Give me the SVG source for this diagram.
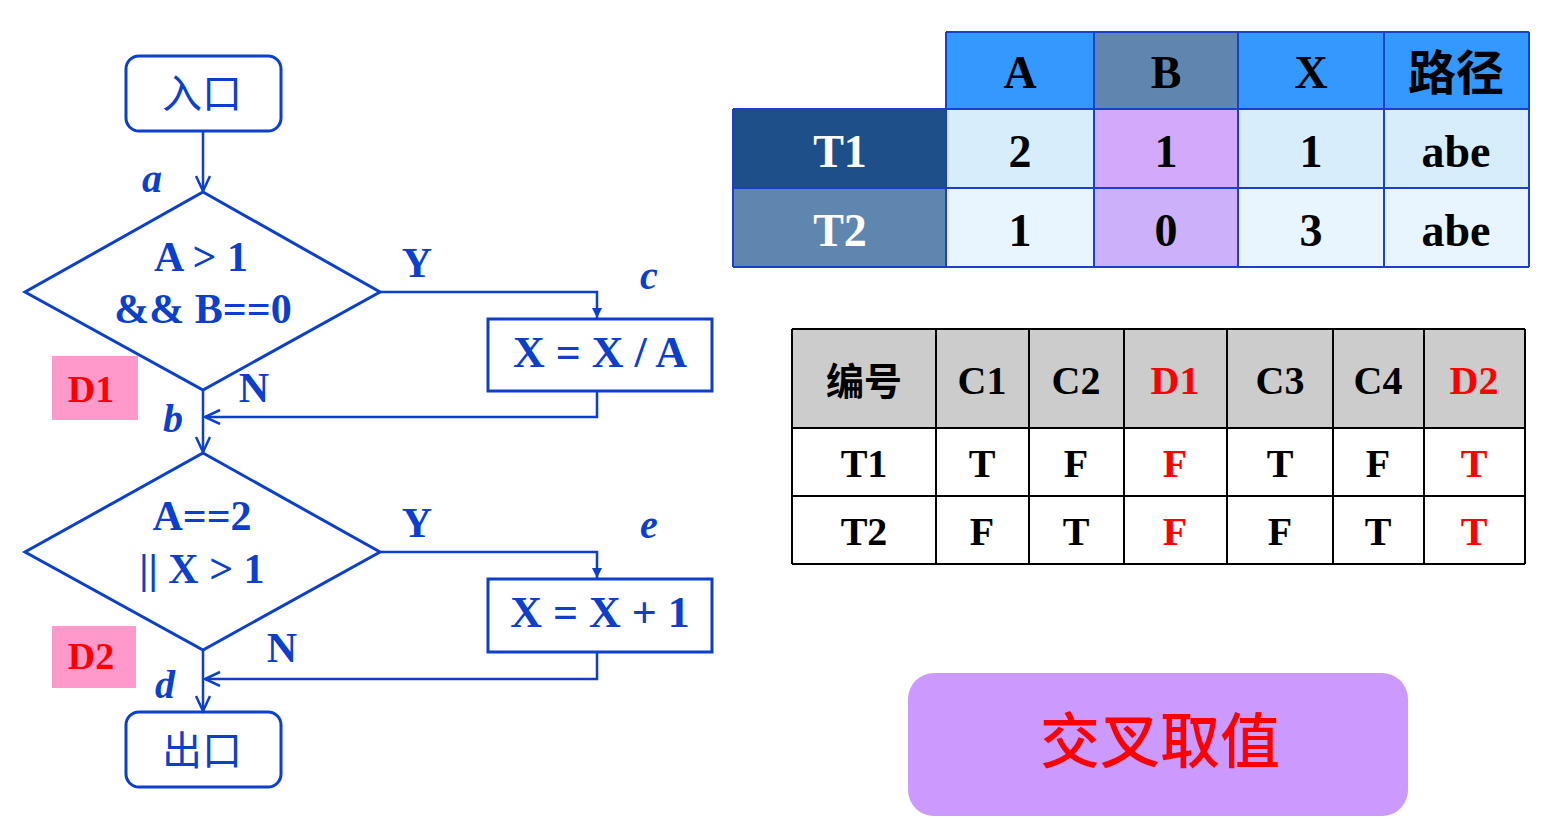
<svg xmlns="http://www.w3.org/2000/svg" width="1558" height="830" viewBox="0 0 1558 830">
<defs>
<style>
.fc{fill:none;stroke:#0B3FCC;stroke-width:3}
.ln{fill:none;stroke:#0B3FCC;stroke-width:2.5}
.bt{font-family:"Liberation Serif","Times New Roman",serif;font-weight:bold;fill:#0B3FCC;text-anchor:middle}
.it{font-family:"Liberation Serif","Times New Roman",serif;font-weight:bold;font-style:italic;fill:#0B3FCC;text-anchor:middle;font-size:40px}
.cjk{font-family:"Noto Sans CJK SC",sans-serif;text-anchor:middle}
.tt{font-family:"Liberation Serif","Times New Roman","Noto Sans CJK SC",serif;font-weight:bold;text-anchor:middle}
.t1{stroke:#1A3FCC;stroke-width:2}
.t2{stroke:#000;stroke-width:2}
</style>
<marker id="open" markerWidth="20" markerHeight="20" refX="16" refY="8" orient="auto" markerUnits="userSpaceOnUse">
<path d="M1,1 L16,8 L1,15" fill="none" stroke="#0B3FCC" stroke-width="2.5"/>
</marker>
<marker id="fill" markerWidth="14" markerHeight="14" refX="10" refY="5" orient="auto" markerUnits="userSpaceOnUse">
<path d="M0,0 L10,5 L0,10 Z" fill="#0B3FCC"/>
</marker>
</defs>
<rect width="1558" height="830" fill="#fff"/>

<g id="connectors">
<line class="ln" x1="203" y1="131" x2="203" y2="191" marker-end="url(#open)"/>
<polyline class="ln" points="380,292 597,292 597,318" marker-end="url(#fill)"/>
<polyline class="ln" points="597,391 597,417 205,417" marker-end="url(#open)"/>
<line class="ln" x1="203" y1="390" x2="203" y2="452" marker-end="url(#open)"/>
<polyline class="ln" points="380,552 597,552 597,578" marker-end="url(#fill)"/>
<polyline class="ln" points="597,652 597,679 205,679" marker-end="url(#open)"/>
<line class="ln" x1="203" y1="650" x2="203" y2="711" marker-end="url(#open)"/>
<text class="it" x="152" y="192">a</text>
<text class="it" x="173" y="432">b</text>
<text class="it" x="649" y="289">c</text>
<text class="it" x="165" y="698">d</text>
<text class="it" x="649" y="538">e</text>
<text class="bt" x="417" y="277" font-size="42">Y</text>
<text class="bt" x="254" y="402" font-size="42">N</text>
<text class="bt" x="417" y="537" font-size="42">Y</text>
<text class="bt" x="282" y="662" font-size="42">N</text>
</g>

<g id="entry">
<rect class="fc" x="126" y="56" width="155" height="75" rx="13"/>
<text class="cjk" x="202" y="108" font-size="40" fill="#0B3FCC">入口</text>
</g>

<g id="d1">
<polygon class="fc" points="203,192 380,292 203,390 25,292"/>
<text class="bt" x="201" y="271" font-size="42">A &gt; 1</text>
<text class="bt" x="203" y="323" font-size="42">&amp;&amp; B==0</text>
</g>

<g id="d1-label">
<rect x="52" y="356" width="86" height="64" fill="#FF99CC"/>
<text class="tt" x="91" y="402" font-size="38" fill="#FF0000">D1</text>
</g>

<g id="box-c">
<rect class="fc" x="488" y="319" width="224" height="72"/>
<text class="bt" x="600" y="367" font-size="44">X = X / A</text>
</g>

<g id="d2">
<polygon class="fc" points="203,453 380,552 203,650 25,552"/>
<text class="bt" x="202" y="530" font-size="42">A==2</text>
<text class="bt" x="202" y="583" font-size="42">|| X &gt; 1</text>
</g>

<g id="d2-label">
<rect x="52" y="626" width="84" height="62" fill="#FF99CC"/>
<text class="tt" x="91" y="669" font-size="38" fill="#FF0000">D2</text>
</g>

<g id="box-e">
<rect class="fc" x="488" y="579" width="224" height="73"/>
<text class="bt" x="600" y="627" font-size="44">X = X + 1</text>
</g>

<g id="exit">
<rect class="fc" x="126" y="712" width="155" height="75" rx="13"/>
<text class="cjk" x="202" y="765" font-size="40" fill="#0B3FCC">出口</text>
</g>

<g id="table1">
<rect x="946" y="32" width="148" height="77" fill="#3399FF"/>
<rect x="1094" y="32" width="144" height="77" fill="#5F86AE"/>
<rect x="1238" y="32" width="146" height="77" fill="#3399FF"/>
<rect x="1384" y="32" width="145" height="77" fill="#3399FF"/>
<rect x="733" y="109" width="213" height="79" fill="#1F4F88"/>
<rect x="946" y="109" width="148" height="79" fill="#D7EDFC"/>
<rect x="1094" y="109" width="144" height="79" fill="#D3AAFB"/>
<rect x="1238" y="109" width="291" height="79" fill="#D7EDFC"/>
<rect x="733" y="188" width="213" height="79" fill="#5F86AE"/>
<rect x="946" y="188" width="148" height="79" fill="#E8F4FE"/>
<rect x="1094" y="188" width="144" height="79" fill="#CCB0FA"/>
<rect x="1238" y="188" width="291" height="79" fill="#E8F4FE"/>
<g class="t1">
<line x1="946" y1="32" x2="1529" y2="32"/>
<line x1="733" y1="109" x2="1529" y2="109"/>
<line x1="733" y1="188" x2="1529" y2="188"/>
<line x1="733" y1="267" x2="1529" y2="267"/>
<line x1="733" y1="109" x2="733" y2="267"/>
<line x1="946" y1="32" x2="946" y2="267"/>
<line x1="1094" y1="32" x2="1094" y2="267"/>
<line x1="1238" y1="32" x2="1238" y2="267"/>
<line x1="1384" y1="32" x2="1384" y2="267"/>
<line x1="1529" y1="32" x2="1529" y2="267"/>
</g>
<g class="tt" font-size="46" fill="#000">
<text x="1020" y="88">A</text>
<text x="1166" y="88">B</text>
<text x="1311" y="88">X</text>
<text x="1456" y="90" font-size="48" font-family="Noto Sans CJK SC, sans-serif">路径</text>
<text x="840" y="167" fill="#fff">T1</text>
<text x="1020" y="167">2</text>
<text x="1166" y="167">1</text>
<text x="1311" y="167">1</text>
<text x="1456" y="167">abe</text>
<text x="840" y="246" fill="#fff">T2</text>
<text x="1020" y="246">1</text>
<text x="1166" y="246">0</text>
<text x="1311" y="246">3</text>
<text x="1456" y="246">abe</text>
</g>
</g>

<g id="table2">
<rect x="792" y="329" width="733" height="99" fill="#CCCCCC"/>
<rect x="792" y="428" width="733" height="136" fill="#fff"/>
<g class="t2">
<line x1="792" y1="329" x2="1525" y2="329"/>
<line x1="792" y1="428" x2="1525" y2="428"/>
<line x1="792" y1="496" x2="1525" y2="496"/>
<line x1="792" y1="564" x2="1525" y2="564"/>
<line x1="792" y1="329" x2="792" y2="564"/>
<line x1="936" y1="329" x2="936" y2="564"/>
<line x1="1029" y1="329" x2="1029" y2="564"/>
<line x1="1124" y1="329" x2="1124" y2="564"/>
<line x1="1227" y1="329" x2="1227" y2="564"/>
<line x1="1333" y1="329" x2="1333" y2="564"/>
<line x1="1424" y1="329" x2="1424" y2="564"/>
<line x1="1525" y1="329" x2="1525" y2="564"/>
</g>
<g class="tt" font-size="40" fill="#000">
<text x="864" y="395" font-family="Noto Sans CJK SC, sans-serif" font-size="38">编号</text>
<text x="982" y="394">C1</text>
<text x="1076" y="394">C2</text>
<text x="1175" y="394" fill="#FF0000">D1</text>
<text x="1280" y="394">C3</text>
<text x="1378" y="394">C4</text>
<text x="1474" y="394" fill="#FF0000">D2</text>
<text x="864" y="477">T1</text>
<text x="982" y="477">T</text>
<text x="1076" y="477">F</text>
<text x="1175" y="477" fill="#FF0000">F</text>
<text x="1280" y="477">T</text>
<text x="1378" y="477">F</text>
<text x="1474" y="477" fill="#FF0000">T</text>
<text x="864" y="545">T2</text>
<text x="982" y="545">F</text>
<text x="1076" y="545">T</text>
<text x="1175" y="545" fill="#FF0000">F</text>
<text x="1280" y="545">F</text>
<text x="1378" y="545">T</text>
<text x="1474" y="545" fill="#FF0000">T</text>
</g>
</g>

<g id="cross-button">
<rect x="908" y="673" width="500" height="143" rx="26" fill="#CC99FF"/>
<text class="cjk" x="1160" y="763" font-size="60" fill="#FF0000" font-weight="500">交叉取值</text>
</g>
</svg>
